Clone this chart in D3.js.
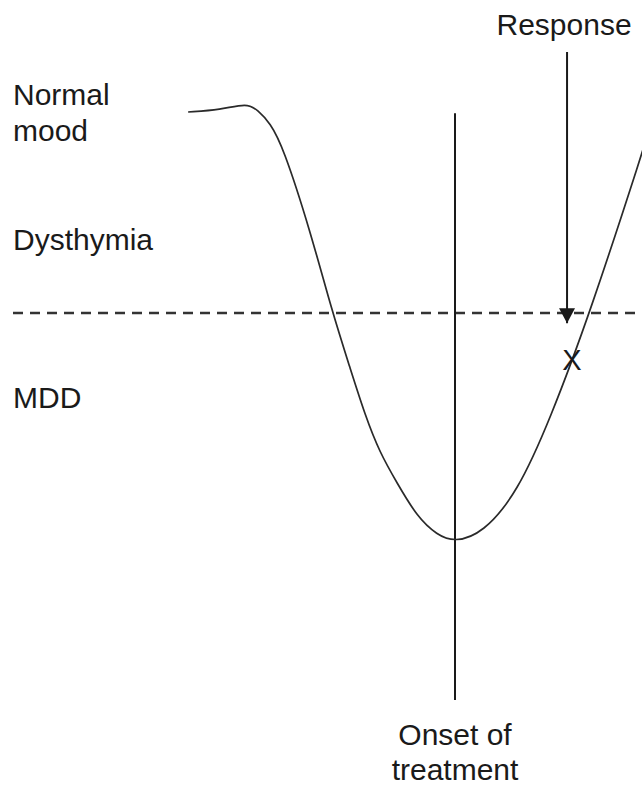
<!DOCTYPE html>
<html>
<head>
<meta charset="utf-8">
<script src="https://cdn.jsdelivr.net/npm/d3@7"></script>
<style>
  html, body { margin: 0; padding: 0; background: #fff; }
  svg { display: block; }
  text { font-family: "Liberation Sans", Arial, sans-serif; fill: #1a1a1a; }
</style>
</head>
<body>
<div id="chart"></div>
<script>
// time in weeks relative to onset of treatment, mood on a 0-100 scale
const weeks = [-5.93, -5.22, -4.62, -4.38, -4.11, -3.82, -3.22, -2.73, -2.33, -2.0,
  -1.67, -1.29, -0.84, -0.4, 0, 0.62, 1.38, 2.11, 3.0, 4.16, 4.56];
const mood = [98.0, 98.33, 99.5, 98.3, 96.2, 92.2, 78.3, 64.7, 55.3, 47.5,
  41.2, 36.2, 30.5, 27.5, 26.3, 27.8, 34.5, 46.7, 64.5, 91.2, 100.8];

const mddThreshold = 64.5;
const onsetWeek = 0;
const onsetRange = [97.8, 0];
const responseWeek = 2.49;
const responseRange = [108, 62.8];
const responsePoint = { week: 2.6, mood: 56.7 };

// labels on the mood axis
const levelLabels = [
  { lines: ["Normal", "mood"], mood: 99.2 },
  { lines: ["Dysthymia"], mood: 75.0 },
  { lines: ["MDD"], mood: 48.7 }
];

const width = 642;
const height = 785;

const x = d3.scaleLinear().domain([-6, 4]).range([185, 635]);
const y = d3.scaleLinear().domain([0, 100]).range([700, 100]);

const svg = d3
  .select("#chart")
  .append("svg")
  .attr("width", width)
  .attr("height", height);

svg
  .append("defs")
  .append("marker")
  .attr("id", "arrowhead")
  .attr("viewBox", "0 -8 15 16")
  .attr("refX", 15)
  .attr("refY", 0)
  .attr("orient", "auto")
  .attr("markerUnits", "userSpaceOnUse")
  .attr("markerWidth", 15)
  .attr("markerHeight", 16)
  .append("path")
  .attr("d", "M 0,-8 L 15,0 L 0,8 Z")
  .attr("fill", "#1a1a1a");

// threshold between dysthymia and MDD
svg
  .append("line")
  .attr("x1", 13)
  .attr("x2", width)
  .attr("y1", y(mddThreshold))
  .attr("y2", y(mddThreshold))
  .attr("stroke", "#333")
  .attr("stroke-width", 2.4)
  .attr("stroke-dasharray", "10,7");

// onset of treatment
svg
  .append("line")
  .attr("x1", x(onsetWeek))
  .attr("x2", x(onsetWeek))
  .attr("y1", y(onsetRange[0]))
  .attr("y2", y(onsetRange[1]))
  .attr("stroke", "#1a1a1a")
  .attr("stroke-width", 2);

// mood curve, smoothed through the read-off points
const line = d3
  .line()
  .x((d) => x(d[0]))
  .y((d) => y(d[1]))
  .curve(d3.curveBasis);

svg
  .append("path")
  .datum(d3.zip(weeks, mood))
  .attr("d", line)
  .attr("fill", "none")
  .attr("stroke", "#2a2a2a")
  .attr("stroke-width", 1.7);

// response arrow
svg
  .append("line")
  .attr("x1", x(responseWeek))
  .attr("x2", x(responseWeek))
  .attr("y1", y(responseRange[0]))
  .attr("y2", y(responseRange[1]))
  .attr("stroke", "#1a1a1a")
  .attr("stroke-width", 2)
  .attr("marker-end", "url(#arrowhead)");

svg
  .append("text")
  .attr("x", x(responseWeek) - 3)
  .attr("y", 35)
  .attr("text-anchor", "middle")
  .attr("font-size", 30)
  .text("Response");

svg
  .append("text")
  .attr("x", x(responsePoint.week))
  .attr("y", y(responsePoint.mood))
  .attr("dy", "0.36em")
  .attr("text-anchor", "middle")
  .attr("font-size", 29)
  .text("X");

// level labels
const levels = svg
  .selectAll(".level")
  .data(levelLabels)
  .enter()
  .append("text")
  .attr("class", "level")
  .attr("x", 13)
  .attr("y", (d) => y(d.mood))
  .attr("font-size", 30);

levels
  .selectAll("tspan")
  .data((d) => d.lines)
  .enter()
  .append("tspan")
  .attr("x", 13)
  .attr("dy", (d, i) => (i === 0 ? 0 : 36))
  .text((d) => d);

// onset label
const onset = svg
  .append("text")
  .attr("x", x(onsetWeek))
  .attr("y", 745)
  .attr("text-anchor", "middle")
  .attr("font-size", 30);

onset
  .selectAll("tspan")
  .data(["Onset of", "treatment"])
  .enter()
  .append("tspan")
  .attr("x", x(onsetWeek))
  .attr("dy", (d, i) => (i === 0 ? 0 : 35))
  .text((d) => d);
</script>
</body>
</html>
